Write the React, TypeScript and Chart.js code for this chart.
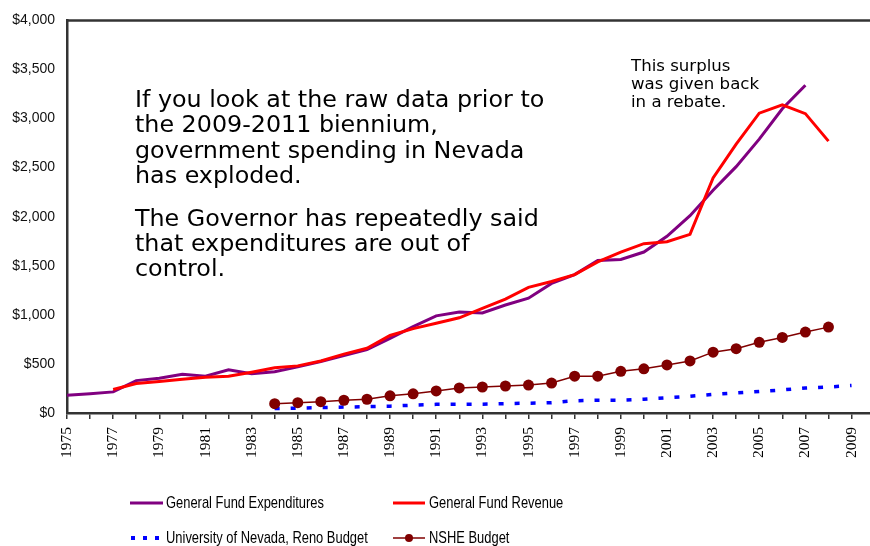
import React, { useEffect, useRef } from "react";
import { Chart, registerables } from "chart.js";

Chart.register(...registerables);

// ---- Data (millions of dollars) ----
const years = [
  1975, 1976, 1977, 1978, 1979, 1980, 1981, 1982, 1983, 1984, 1985, 1986,
  1987, 1988, 1989, 1990, 1991, 1992, 1993, 1994, 1995, 1996, 1997, 1998,
  1999, 2000, 2001, 2002, 2003, 2004, 2005, 2006, 2007, 2008, 2009,
];

const generalFundExpenditures = [
  180, 195, 215, 330, 355, 395, 375, 440, 400, 420, 470, 525,
  585, 645, 760, 880, 990, 1030, 1020, 1100, 1170, 1320, 1410, 1555,
  1565, 1640, 1800, 2010, 2270, 2510, 2790, 3100, 3340, null, null,
];

const generalFundRevenue = [
  null, null, 240, 300, 320, 345, 365, 375, 415, 460, 480, 530,
  600, 660, 790, 860, 915, 970, 1065, 1160, 1280, 1340, 1410, 1540,
  1640, 1725, 1745, 1820, 2395, 2740, 3055, 3140, 3050, 2770, null,
];

const unrBudget = [
  null, null, null, null, null, null, null, null, null, 45, 50, 55,
  60, 65, 70, 80, 88, 90, 90, 95, 100, 105, 125, 130,
  130, 140, 155, 170, 190, 205, 220, 235, 255, 265, 280,
];

const nsheBudget = [
  null, null, null, null, null, null, null, null, null, 95, 105, 115,
  130, 140, 175, 195, 225, 255, 265, 275, 285, 305, 375, 375,
  425, 450, 490, 530, 620, 655, 720, 770, 825, 875, null,
];

const yTickValues = [0, 500, 1000, 1500, 2000, 2500, 3000, 3500, 4000];

const mainNoteA = [
  "If you look at the raw data prior to",
  "the 2009-2011 biennium,",
  "government spending in Nevada",
  "has exploded.",
];
const mainNoteB = [
  "The Governor has repeatedly said",
  "that expenditures are out of",
  "control.",
];
const surplusNote = ["This surplus", "was given back", "in a rebate."];

const seriesNames = {
  exp: "General Fund Expenditures",
  rev: "General Fund Revenue",
  unr: "University of Nevada, Reno Budget",
  nshe: "NSHE Budget",
};

const toPoints = (vals: (number | null)[]) =>
  years
    .map((yr, i) => ({ x: yr, y: vals[i] }))
    .filter((p) => p.y !== null) as { x: number; y: number }[];

const fmtDollar = (v: number) => "$" + v.toLocaleString("en-US");

const overlayPlugin = {
  id: "overlay",
  afterDraw(chart: any) {
    const { ctx, chartArea } = chart;
    ctx.save();
    // top frame line
    ctx.strokeStyle = "#333333";
    ctx.lineWidth = 2.5;
    ctx.beginPath();
    ctx.moveTo(chartArea.left - 1, chartArea.top);
    ctx.lineTo(chartArea.right, chartArea.top);
    ctx.stroke();

    // big annotation text
    ctx.fillStyle = "#000000";
    ctx.textAlign = "left";
    ctx.textBaseline = "alphabetic";
    ctx.font = '23.8px "DejaVu Sans"';
    mainNoteA.forEach((t, i) => ctx.fillText(t, 135, 107 + i * 25.3));
    mainNoteB.forEach((t, i) => ctx.fillText(t, 135, 226 + i * 25));

    ctx.font = '16.6px "DejaVu Sans"';
    surplusNote.forEach((t, i) => ctx.fillText(t, 631, 71 + i * 18));

    // legend
    ctx.font = '17px "Liberation Sans", Arial, sans-serif';
    ctx.textBaseline = "middle";
    const narrowText = (t: string, x: number, y: number) => {
      ctx.save();
      ctx.translate(x, y);
      ctx.scale(0.76, 1);
      ctx.fillStyle = "#000";
      ctx.fillText(t, 0, 0);
      ctx.restore();
    };
    const drawSample = (
      x0: number,
      x1: number,
      y: number,
      color: string,
      width: number,
      dash: number[],
      marker: boolean
    ) => {
      ctx.save();
      ctx.strokeStyle = color;
      ctx.lineWidth = width;
      ctx.setLineDash(dash);
      ctx.beginPath();
      ctx.moveTo(x0, y);
      ctx.lineTo(x1, y);
      ctx.stroke();
      if (marker) {
        ctx.fillStyle = color;
        ctx.beginPath();
        ctx.arc((x0 + x1) / 2, y, 4, 0, Math.PI * 2);
        ctx.fill();
      }
      ctx.restore();
    };
    const r1 = 503;
    const r2 = 538;
    drawSample(130, 163, r1, "#800080", 3, [], false);
    narrowText(seriesNames.exp, 166, r1);
    drawSample(393, 425, r1, "#FF0000", 3, [], false);
    narrowText(seriesNames.rev, 429, r1);
    drawSample(131, 163, r2, "#0000FF", 4, [4, 8], false);
    narrowText(seriesNames.unr, 166, r2);
    drawSample(393, 425, r2, "#800000", 1.5, [], true);
    narrowText(seriesNames.nshe, 429, r2);
    ctx.restore();
  },
};

export default function App() {
  const canvasRef = useRef<HTMLCanvasElement | null>(null);

  useEffect(() => {
    if (!canvasRef.current) return;
    const chart = new Chart(canvasRef.current, {
      type: "line",
      data: {
        datasets: [
          {
            label: seriesNames.rev,
            data: toPoints(generalFundRevenue),
            borderColor: "#FF0000",
            backgroundColor: "#FF0000",
            borderWidth: 3,
            pointRadius: 0,
            tension: 0,
          },
          {
            label: seriesNames.exp,
            data: toPoints(generalFundExpenditures),
            borderColor: "#800080",
            backgroundColor: "#800080",
            borderWidth: 3,
            pointRadius: 0,
            tension: 0,
          },
          {
            label: seriesNames.nshe,
            data: toPoints(nsheBudget),
            borderColor: "#800000",
            backgroundColor: "#800000",
            borderWidth: 1.5,
            pointRadius: 5.5,
            pointBackgroundColor: "#800000",
            pointBorderWidth: 0,
            tension: 0,
          },
          {
            label: seriesNames.unr,
            data: toPoints(unrBudget),
            borderColor: "#0000FF",
            backgroundColor: "#0000FF",
            borderWidth: 3.5,
            borderDash: [5, 11],
            pointRadius: 0,
            tension: 0,
          },
        ],
      },
      options: {
        animation: false,
        responsive: false,
        layout: { autoPadding: false, padding: { top: 19, left: 0, right: 0, bottom: 73 } },
        plugins: {
          legend: { display: false },
          tooltip: { enabled: false },
        },
        scales: {
          x: {
            type: "linear",
            min: years[0],
            max: 2009.8,
            afterFit: (scale: any) => {
              scale.height = 60;
              scale.paddingLeft = 0;
              scale.paddingRight = 0;
            },
            border: { display: true, color: "#333333", width: 2.5 },
            grid: {
              drawOnChartArea: false,
              drawTicks: true,
              tickLength: 6,
              color: "#333333",
              lineWidth: 1.5,
            },
            ticks: {
              stepSize: 1,
              autoSkip: false,
              includeBounds: false,
              maxRotation: 90,
              minRotation: 90,
              padding: 8,
              color: "#000000",
              font: { family: '"Liberation Serif", "Times New Roman", serif', size: 15.5 },
              callback: (v: any) => (Number(v) % 2 === 1 ? String(v) : ""),
            },
          },
          y: {
            min: yTickValues[0],
            max: yTickValues[yTickValues.length - 1],
            afterFit: (scale: any) => {
              scale.width = 67;
            },
            afterBuildTicks: (scale: any) => {
              scale.ticks = yTickValues.map((v) => ({ value: v }));
            },
            border: { display: true, color: "#333333", width: 2.5 },
            grid: { display: false, drawTicks: false },
            ticks: {
              padding: 12,
              color: "#111111",
              font: { family: '"Liberation Sans", Arial, sans-serif', size: 14 },
              callback: (v: any) => fmtDollar(Number(v)),
            },
          },
        },
      },
      plugins: [overlayPlugin],
    });
    return () => chart.destroy();
  }, []);

  return (
    <div
      style={{
        position: "absolute",
        left: 0,
        top: 0,
        width: 870,
        height: 546,
        background: "#ffffff",
      }}
    >
      <canvas ref={canvasRef} width={870} height={546} />
    </div>
  );
}
